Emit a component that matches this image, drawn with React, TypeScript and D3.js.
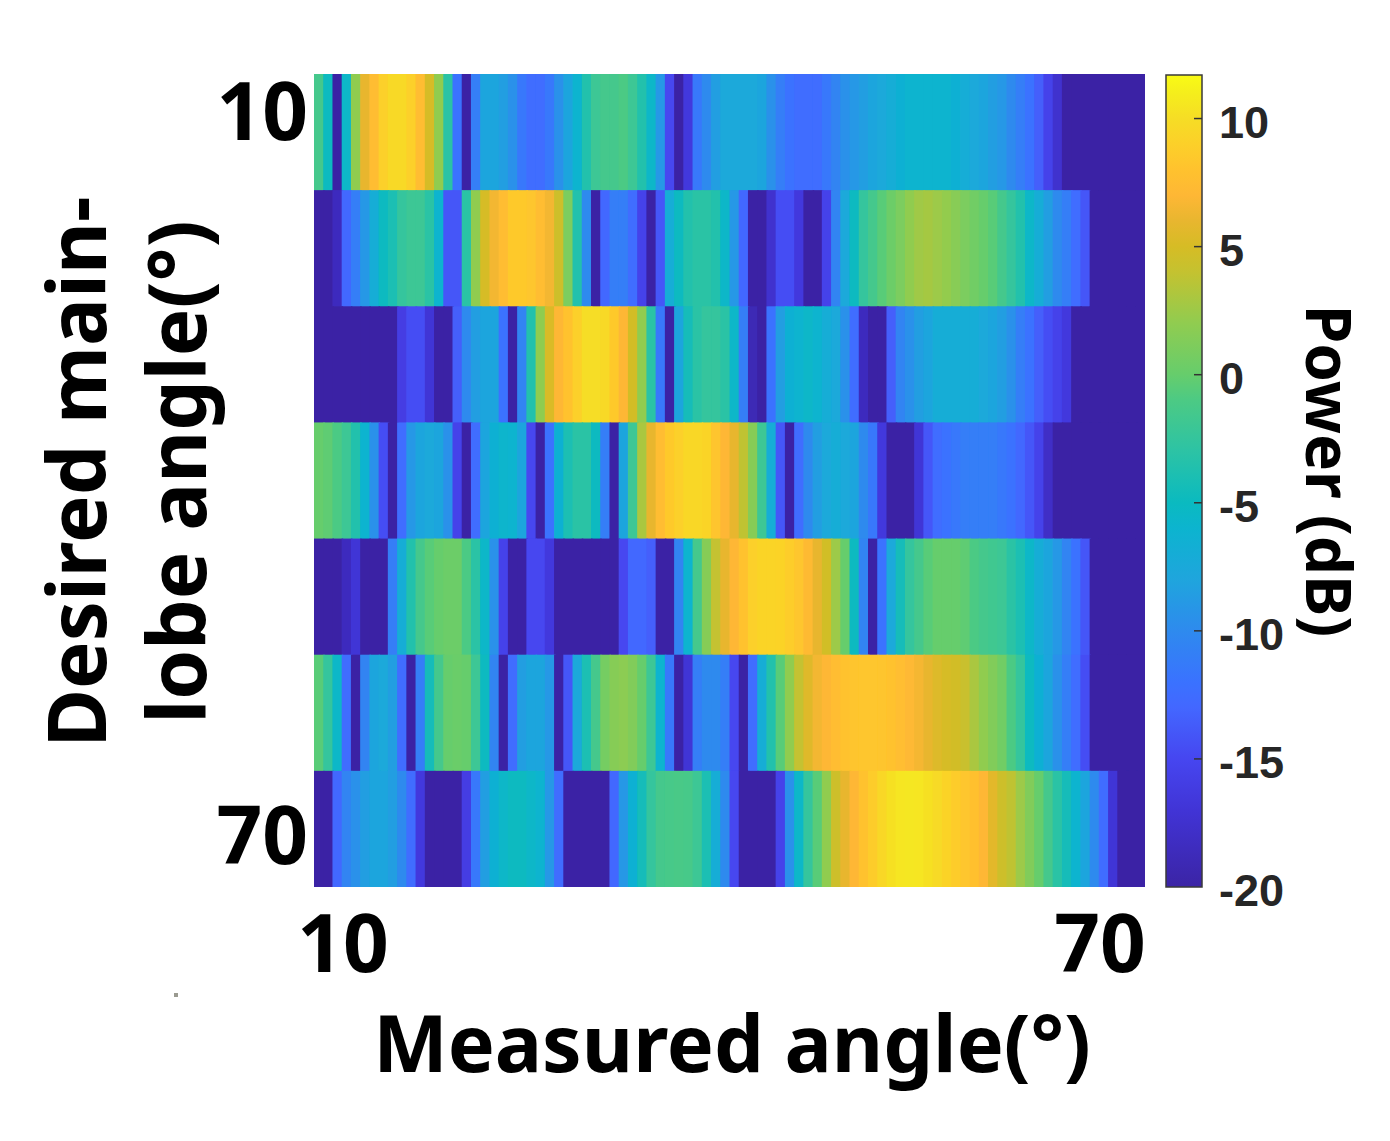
import { useEffect, useRef } from 'react';
import * as d3 from 'd3';

// Power (dB) per measured-angle bin, one array per desired main-lobe angle
const row10 = [-1.5,-5,-20,-5.5,2,6,7.5,9,9.7,9.7,9,7.5,5,2,-3,-12,-20,-11,-8,-8,-8.5,-9.5,-11.5,-12.5,-12.5,-11.5,-9.5,-8,-6,-3.5,-2,-1.5,-1.5,-1,-2,-3.5,-5.5,-9,-15,-20,-16.5,-11.5,-10,-8.5,-7.5,-7.5,-7.5,-7.5,-8,-9.5,-11,-12,-12.5,-12.5,-12.5,-11.5,-10.5,-9.5,-9,-8.5,-8,-7.5,-7,-6.5,-6,-6,-6,-6,-6,-6.5,-7,-7.5,-8,-8.5,-9,-10,-11,-12,-13.5,-15.5,-17.5,-20,-20,-20,-20,-20,-20,-20,-20,-20];
const row20 = [-20,-20,-18.5,-13,-11,-9,-7,-5,-4,-2.5,-2,-2,-3,-6,-14,-14,-3,2,5,6.5,7.5,8.5,8.5,8.3,7.5,6.5,4.5,1,-3.5,-10,-20,-13,-11,-11,-12.5,-15.5,-20,-14,-7,-5,-3.5,-3,-3,-3.5,-5.5,-9,-13,-20,-20,-17.5,-14.5,-14.5,-16.5,-20,-20,-15.5,-10.5,-7.5,-5,-2.5,-1.5,-0.5,0.3,1,2,2.6,2.8,2.5,2.1,1.6,1,0.5,0,-0.5,-1.5,-2.5,-3.5,-5.5,-7,-8.5,-10,-11,-12.5,-14,-20,-20,-20,-20,-20,-20];
const row30 = [-20,-20,-20,-20,-20,-20,-20,-20,-20,-16,-14.5,-14.5,-17,-20,-20,-13.5,-10,-8.5,-8,-8,-12,-20,-10.5,-3.5,2,5.2,7,8,9,10,10,9.7,8.5,7,4.8,2,-3,-11.5,-20,-8,-4.5,-3,-2.5,-2.5,-3,-5.5,-11,-19,-20,-12,-8.5,-6.5,-6,-5.5,-6,-7,-7.5,-9.5,-12.5,-18.5,-20,-20,-13.5,-10.5,-9.5,-8.5,-8,-7,-7,-7,-7,-7,-7.5,-8,-8.5,-9.5,-11,-12,-13.5,-14.5,-15.5,-16.5,-20,-20,-20,-20,-20,-20,-20,-20];
const row40 = [0,-0.3,-1,-2,-3.5,-6,-9.5,-14.5,-20,-12.5,-9,-8,-7.5,-8,-9.5,-15.5,-20,-12.5,-8,-6.5,-5.8,-6,-8,-15,-20,-12,-6.5,-4,-3,-3,-5,-11,-20,-8,-2,3,6,7.5,8.5,9,9.5,9.5,9.3,8.2,7,6,3.8,1.5,-2,-7,-14,-20,-12.5,-10,-8.5,-7.5,-7,-7.5,-8,-10,-11.5,-16.5,-20,-20,-20,-17,-14,-12.5,-12,-11.5,-11,-11,-11,-11,-11.5,-12,-13,-14,-15.5,-18,-20,-20,-20,-20,-20,-20,-20,-20,-20,-20];
const row50 = [-20,-20,-20,-18.5,-17,-20,-20,-20,-11,-7,-3.5,-1.5,-0.5,0,0.3,0.3,-1,-3,-5.5,-9.5,-15.5,-20,-20,-15,-15,-16.5,-20,-20,-20,-20,-20,-20,-20,-15,-13,-13,-13.5,-20,-20,-10.5,-6,-1.5,1.5,4,6,7,8,9,9.3,9.3,9.2,8.8,8.3,7.3,6,4.7,2.5,0,-5,-10.5,-20,-12,-7.5,-4.5,-2.5,-1.5,-0.5,0,0,0,-0.3,-1,-1.5,-1.7,-2,-3,-4,-5.5,-7,-8,-9,-10.5,-12,-14,-20,-20,-20,-20,-20,-20];
const row60 = [-0.5,-2.5,-5.5,-12.5,-20,-10.5,-8,-7.5,-8.5,-12.5,-20,-11,-4.5,-1.5,0,0.2,0,-2,-5,-10.5,-20,-12.5,-8.5,-8,-8,-9,-20,-14,-7.5,-4,-1.5,0.7,1.5,1.8,1.3,0,-2,-6,-11.5,-20,-17,-11,-10,-10,-11,-15,-20,-12.5,-7,-3.5,-0.5,2,4,5.5,6.5,7,7.5,8,8.2,8.3,8.3,8.2,8,7.6,7.2,6.6,6,5.4,5,4.8,4.3,3,2,1.3,0.5,-1,-2.5,-5,-6.5,-8,-9.5,-11,-12.5,-14.5,-20,-20,-20,-20,-20,-20];
const row70 = [-20,-20,-13,-10.5,-9.5,-8.5,-8,-8,-8.5,-10,-12.5,-16.5,-20,-20,-20,-20,-16,-11.5,-8.5,-6.5,-5.5,-5,-5,-5.5,-6,-9,-12.5,-20,-20,-20,-20,-20,-13,-9,-6.5,-4.5,-2.5,-1.5,-1.3,-1.2,-1.3,-2,-4,-7,-10,-15,-20,-20,-20,-20,-15.5,-9.5,-5.5,-2.5,-0.5,2,4.5,6,7,8,8.7,9.5,10.2,10.5,10.6,10.5,10.2,9.8,9.2,8.7,8.3,7.8,7,5.7,4.5,3.8,2.5,1.3,0,-1.5,-3,-4.5,-6,-8,-10,-12.5,-17,-20,-20,-20];

const rows = [row10, row20, row30, row40, row50, row60, row70];
const rowLabels = ['10', '20', '30', '40', '50', '60', '70'];
const xTickLabels = [10, 70];
const yTickLabels = ['10', '70'];
const colorbarTicks = [-20, -15, -10, -5, 0, 5, 10];

// colours
const colorDb = [-20,-17,-15,-13,-12,-10,-8,-6,-5,-3,-1,0,2,4,5,6,7,8,9,10,11,11.7];
const colorHex = ['#3b24a5','#4134d6','#4646f0','#4367ff','#3a72ff','#2e8aee','#1fa5dd','#0cb4cf','#0abac0','#2cc3a5','#4cca84','#66cd6c','#90cc50','#c4c230','#d6bc25','#e8b62f','#feb735','#ffc22e','#fcd029','#f6dd25','#f5ee1c','#f9fb15'];

const font = '"Noto Sans", sans-serif';

export default function App() {
  const svgRef = useRef<SVGSVGElement>(null);

  useEffect(() => {
    if (!svgRef.current) return;
    const svg = d3.select(svgRef.current);
    svg.selectAll('*').remove();

    const color = d3.scaleLinear<string>().domain(colorDb).range(colorHex).clamp(true);

    const x = d3.scaleBand<number>().domain(d3.range(row10.length)).range([314, 1145]);
    const y = d3.scaleBand<string>().domain(rowLabels).range([74, 887]);
    const angle = d3.scaleLinear().domain([10, 70]).range([343, 1100]);
    const cb = d3.scaleLinear().domain([-20, 11.7]).range([887, 75]);

    const defs = svg.append('defs');
    defs.append('clipPath').attr('id', 'plot')
      .append('rect').attr('x', 314).attr('y', 74).attr('width', 831).attr('height', 813);
    defs.append('filter').attr('id', 'soft')
      .attr('x', '-1%').attr('y', '-1%').attr('width', '102%').attr('height', '102%')
      .append('feGaussianBlur').attr('stdDeviation', 0.7);
    const grad = defs.append('linearGradient').attr('id', 'cbar')
      .attr('x1', 0).attr('x2', 0).attr('y1', 1).attr('y2', 0);
    colorDb.forEach((d, i) => {
      grad.append('stop')
        .attr('offset', (d + 20) / 31.7)
        .attr('stop-color', colorHex[i]);
    });

    // heatmap cells, each one overlaps the next so no seams show through
    const heat = svg.append('g').attr('clip-path', 'url(#plot)')
      .append('g').attr('filter', 'url(#soft)');
    rows.forEach((vals, r) => {
      heat.append('g').selectAll('rect')
        .data(vals)
        .join('rect')
        .attr('x', (_, i) => x(i)!)
        .attr('y', y(rowLabels[r])!)
        .attr('width', x.bandwidth() + 1.5)
        .attr('height', y.bandwidth() + 1.5)
        .attr('fill', (d) => color(d));
    });

    // colorbar
    svg.append('rect')
      .attr('x', 1166).attr('y', 75).attr('width', 36).attr('height', 812)
      .attr('fill', 'url(#cbar)').attr('stroke', '#3a3a3a').attr('stroke-width', 1.5);
    svg.append('g').selectAll('line')
      .data(colorbarTicks.filter((d) => d > -20))
      .join('line')
      .attr('x1', 1194).attr('x2', 1202)
      .attr('y1', (d) => cb(d)).attr('y2', (d) => cb(d))
      .attr('stroke', '#333').attr('stroke-width', 1.5);
    svg.append('g').selectAll('text')
      .data(colorbarTicks)
      .join('text')
      .attr('x', 1219)
      .attr('y', (d) => cb(d) + 19)
      .attr('font-family', '"Liberation Sans", sans-serif')
      .attr('font-weight', 700)
      .attr('font-size', 45)
      .attr('fill', '#262626')
      .text((d) => d);

    const big = (sel: d3.Selection<SVGTextElement, any, any, any>, size: number) =>
      sel.attr('font-family', font).attr('font-weight', 700).attr('font-size', size).attr('fill', '#000');

    // axis tick labels
    big(svg.append('g').selectAll<SVGTextElement, number>('text')
      .data(xTickLabels).join('text'), 80)
      .attr('x', (d) => angle(d))
      .attr('y', 972)
      .attr('text-anchor', 'middle')
      .text((d) => d);

    big(svg.append('g').selectAll<SVGTextElement, string>('text')
      .data(yTickLabels).join('text'), 80)
      .attr('x', 308)
      .attr('y', (d) => y(d)! + (d === '10' ? 66 : 93))
      .attr('text-anchor', 'end')
      .text((d) => d);

    // axis titles
    big(svg.append('text'), 79)
      .attr('x', 732).attr('y', 1072)
      .attr('text-anchor', 'middle')
      .text('Measured angle(°)');

    big(svg.append('text'), 80)
      .attr('transform', 'translate(106,472) rotate(-90)')
      .attr('text-anchor', 'middle')
      .text('Desired main-');

    big(svg.append('text'), 80)
      .attr('transform', 'translate(206,472) rotate(-90)')
      .attr('text-anchor', 'middle')
      .text('lobe angle(°)');

    big(svg.append('text'), 62)
      .attr('transform', 'translate(1306,471) rotate(90)')
      .attr('text-anchor', 'middle')
      .text('Power (dB)');

    // speck left on the original image
    svg.append('rect').attr('x', 174).attr('y', 993).attr('width', 4).attr('height', 4).attr('fill', '#9a9a90');
  }, []);

  return (
    <svg
      ref={svgRef}
      width={1390}
      height={1141}
      style={{ position: 'absolute', left: 0, top: 0, background: '#fff' }}
    />
  );
}
